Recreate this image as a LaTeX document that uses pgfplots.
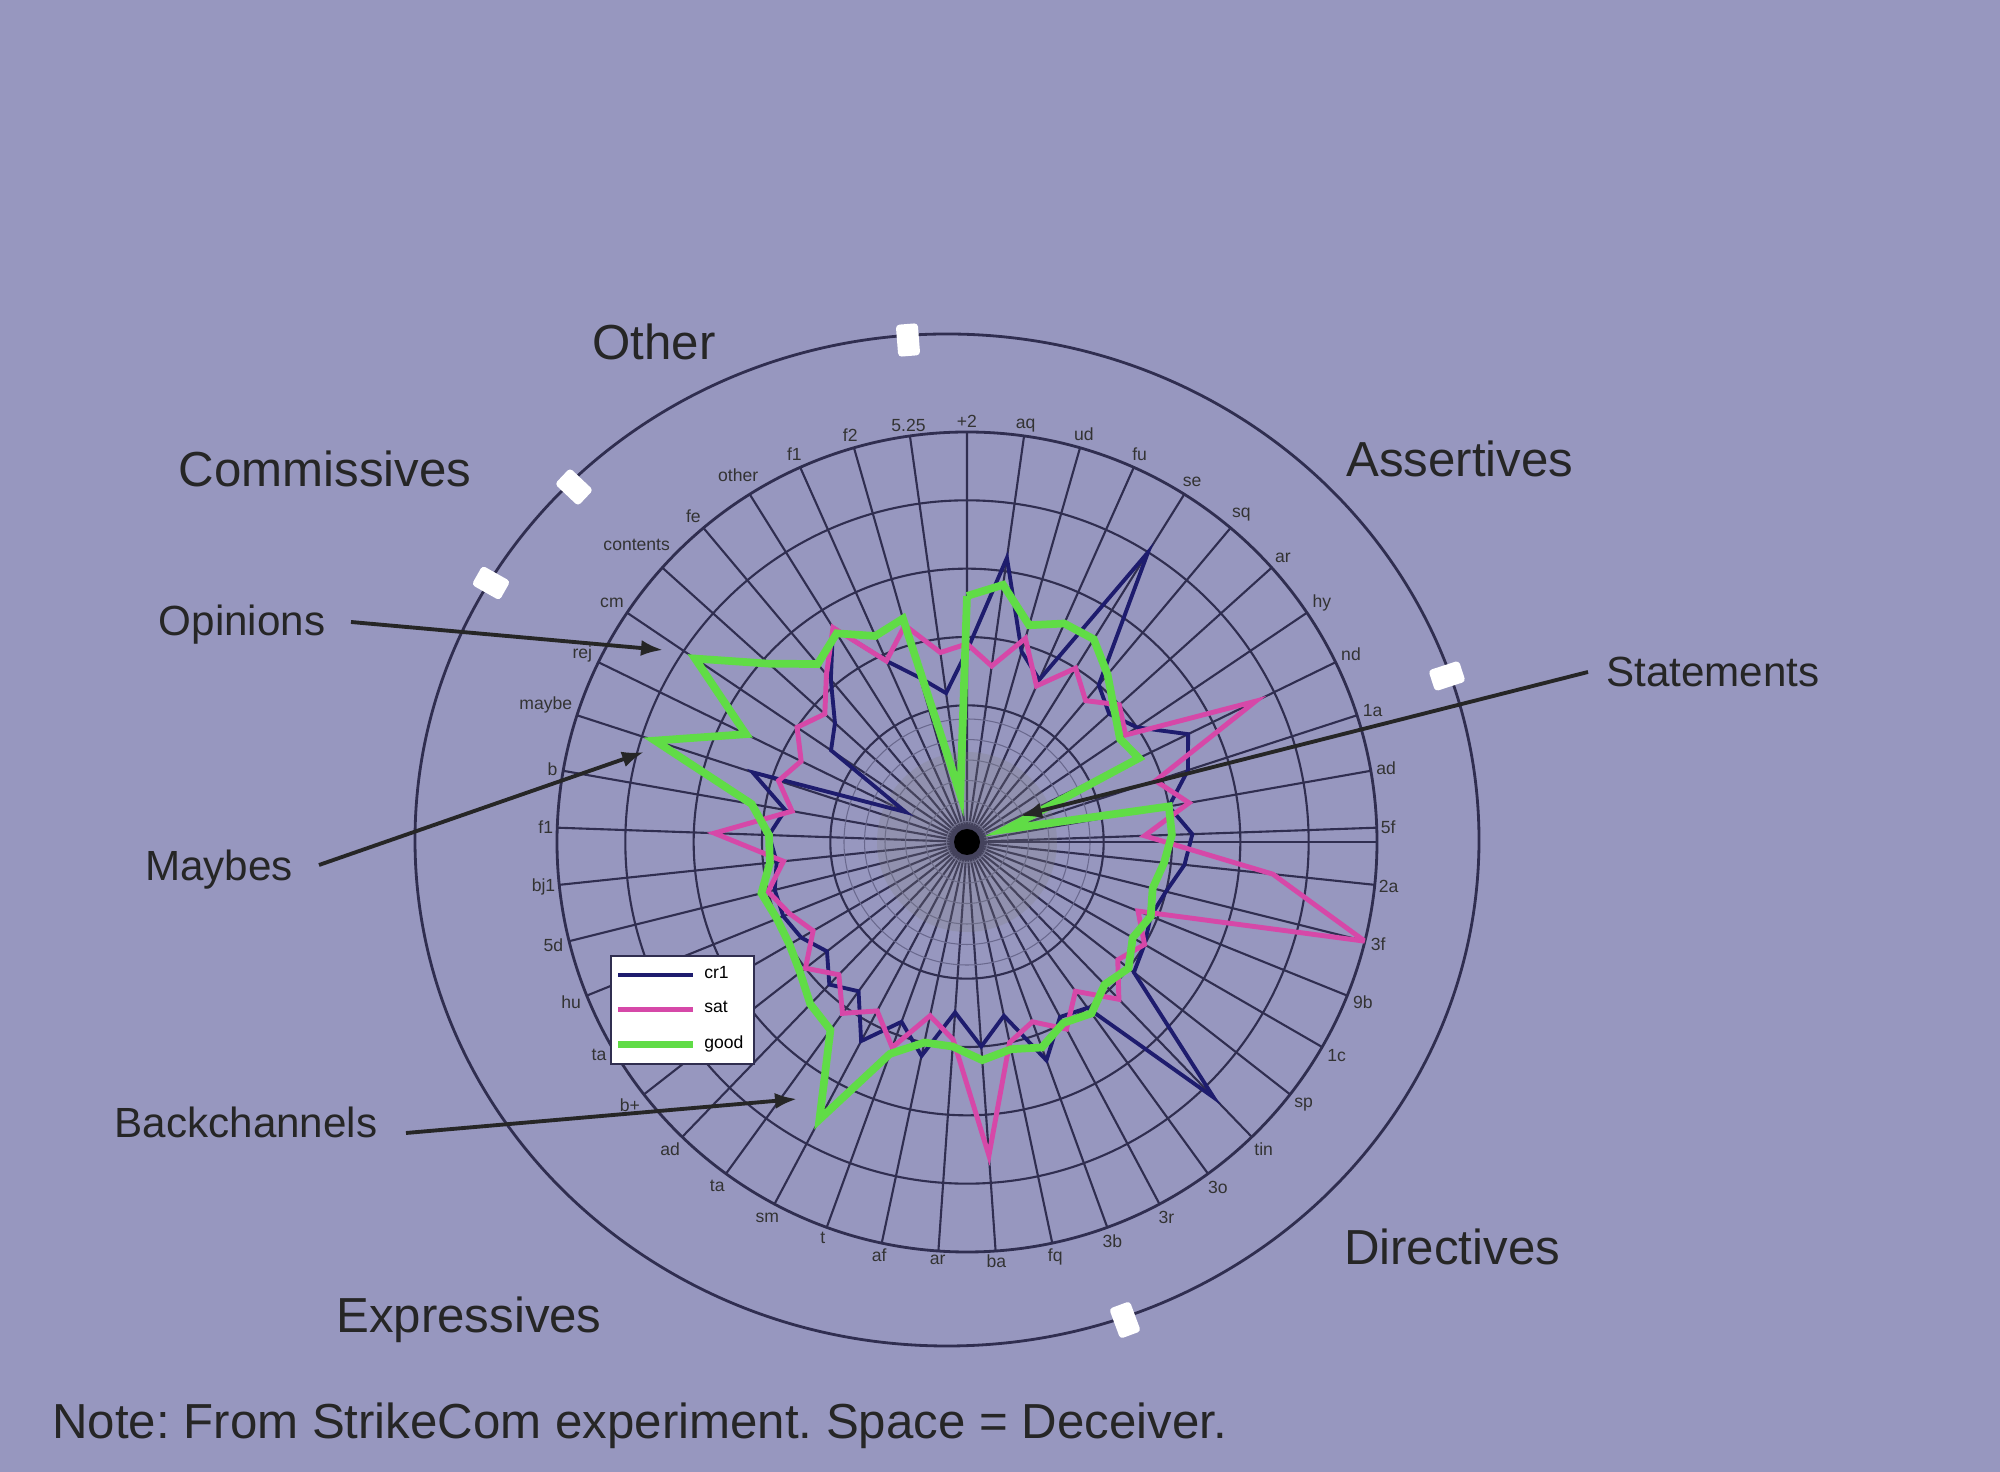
\documentclass[border=0pt]{standalone}
\usepackage{fontspec}
\setmainfont{Liberation Sans}
\usepackage{pgfplots}
\pgfplotsset{compat=1.18}
\usepgfplotslibrary{polar}
\usetikzlibrary{arrows.meta}
\definecolor{bg}{RGB}{151,151,191}
\definecolor{gridc}{RGB}{48,46,80}
\definecolor{navy}{RGB}{30,28,110}
\definecolor{mag}{RGB}{214,72,168}
\definecolor{grn}{RGB}{96,220,70}
\frenchspacing
\begin{document}
\begin{tikzpicture}
\fill[bg] (0,0) rectangle (20,14.72);
% outer category ring
\draw[gridc, line width=0.8pt] (9.47,6.32) ellipse [x radius=5.32, y radius=5.06];
\foreach \x/\y/\a in {9.08/11.32/94.5, 5.74/9.85/136.6, 4.91/8.89/150.6, 14.47/7.96/18, 11.25/1.52/-69.7}
  \node[fill=white, rounded corners=1pt, minimum width=0.32cm, minimum height=0.22cm, inner sep=0pt, rotate=\a] at (\x,\y) {};

\begin{polaraxis}[
  at={(9.67cm,6.30cm)}, anchor=center,
  scale only axis, width=8.2cm, height=8.2cm,
  ymin=0, ymax=6,
  xtick={2,10,...,354},
  xticklabels={5f,ad,1a,nd,hy,ar,sq,se,fu,ud,aq,+2,5.25,f2,f1,other,fe,contents,cm,rej,maybe,b,f1,bj1,5d,hu,ta,b+,ad,ta,sm,t,af,ar,ba,fq,3b,3r,3o,tin,sp,1c,9b,3f,2a},
  xticklabel style={font=\fontsize{5}{6}\selectfont, inner sep=1pt, text=black!80},
  ytick={2,3,4,5}, yticklabels={},
  minor ytick={0.3,0.6,...,1.8},
  grid=both,
  major grid style={gridc, line width=0.6pt},
  minor grid style={gridc!45!bg, line width=0.3pt},
  axis line style={gridc, line width=0.8pt},
  tick style={draw=none},
  legend style={at={(0.065,0.362)}, anchor=north west, fill=white, draw=gridc,
    font=\fontsize{5}{6}\selectfont, inner sep=1pt, row sep=1pt},
  legend cell align=left,
  legend image code/.code={\draw[#1] (0cm,0cm) -- (0.75cm,0cm);},
]
\fill[gray, opacity=0.25] (axis cs:0,0) circle [radius=0.9cm];

\addplot[navy, line width=1.1pt] coordinates {
(90,2.8) (82,4.2) (74,2.9) (66,2.6) (58,5.0) (50,3.0) (42,2.8) (34,3.0) (26,3.6) (18,3.4)
(10,3.0) (2,3.3) (-6,3.2) (-14,3.0) (-22,2.9) (-30,3.0) (-38,3.1) (-46,5.2) (-54,3.0) (-62,2.9)
(-70,3.4) (-78,2.6) (-86,3.0) (-94,2.5) (-102,3.2) (-110,2.8) (-118,3.3) (-126,2.7) (-134,2.9) (-142,2.6)
(-150,2.8) (-158,2.9) (-166,2.9) (-174,2.8) (-182,2.9) (-190,2.7) (-198,3.3) (-206,1.0) (-214,2.4) (-222,2.6)
(-230,3.1) (-238,3.7) (-246,2.9) (-254,2.5) (-262,2.2) (-270,2.8)};
\addlegendentry{cr1}

\addplot[mag, line width=1.4pt] coordinates {
(90,2.9) (82,2.6) (74,3.1) (66,2.5) (58,3.0) (50,2.7) (42,3.0) (34,2.8) (26,4.7) (18,2.9)
(10,3.3) (2,2.6) (-6,4.5) (-14,6.0) (-22,2.7) (-30,3.0) (-38,2.8) (-46,3.2) (-54,2.7) (-62,3.1)
(-70,2.8) (-78,3.0) (-86,4.6) (-94,2.9) (-102,2.6) (-110,3.2) (-118,2.8) (-126,3.1) (-134,2.7) (-142,3.0)
(-150,2.6) (-158,2.8) (-166,3.0) (-174,2.7) (-182,3.7) (-190,2.6) (-198,2.9) (-206,2.7) (-214,3.0) (-222,2.8)
(-230,3.2) (-238,3.7) (-246,2.9) (-254,3.3) (-262,2.8) (-270,2.9)};
\addlegendentry{sat}

\addplot[grn, line width=2.2pt] coordinates {
(90,3.6) (82,3.8) (74,3.3) (66,3.5) (58,3.5) (50,3.2) (42,2.9) (34,2.7) (26,2.8) (18,0.6)
(10,3.0) (2,3.0) (-6,2.9) (-14,2.8) (-22,2.9) (-30,2.8) (-38,3.0) (-46,2.9) (-54,3.1) (-62,3.0)
(-70,3.2) (-78,3.1) (-86,3.2) (-94,3.0) (-102,3.0) (-110,3.3) (-118,4.6) (-126,3.4) (-134,3.3) (-142,3.1)
(-150,3.0) (-158,3.0) (-166,3.1) (-174,2.9) (-182,2.9) (-190,3.2) (-198,4.8) (-206,3.6) (-214,4.8) (-222,3.9)
(-230,3.4) (-238,3.6) (-246,3.3) (-254,3.4) (-262,0.7) (-270,3.6)};
\addlegendentry{good}

\fill[black] (axis cs:0,0) circle [radius=0.13cm];
\end{polaraxis}

% category names
\begin{scope}[font=\fontsize{14}{16}\selectfont, text=black!85]
\node at (6.54,11.30) {Other};
\node at (3.25,10.03) {Commissives};
\node at (14.60,10.13) {Assertives};
\node at (14.52,2.25) {Directives};
\node at (4.69,1.52) {Expressives};
\end{scope}

% annotations
\begin{scope}[font=\fontsize{12}{14}\selectfont, text=black!85]
\node at (2.42,8.47) {Opinions};
\node at (2.19,6.02) {Maybes};
\node at (2.46,3.50) {Backchannels};
\node at (17.13,8.00) {Statements};
\end{scope}
\begin{scope}[black!85, line width=1.1pt, -{Latex[length=2.2mm, width=1.6mm]}]
\draw (3.51,8.50) -- (6.63,8.22);
\draw (3.19,6.07) -- (6.44,7.20);
\draw (4.06,3.39) -- (7.97,3.73);
\draw (15.88,8.00) -- (10.20,6.56);
\end{scope}

\node[anchor=west, font=\fontsize{14}{16}\selectfont, text=black!85] at (0.40,0.46)
  {Note: From StrikeCom experiment. Space = Deceiver.};
\end{tikzpicture}
\end{document}
